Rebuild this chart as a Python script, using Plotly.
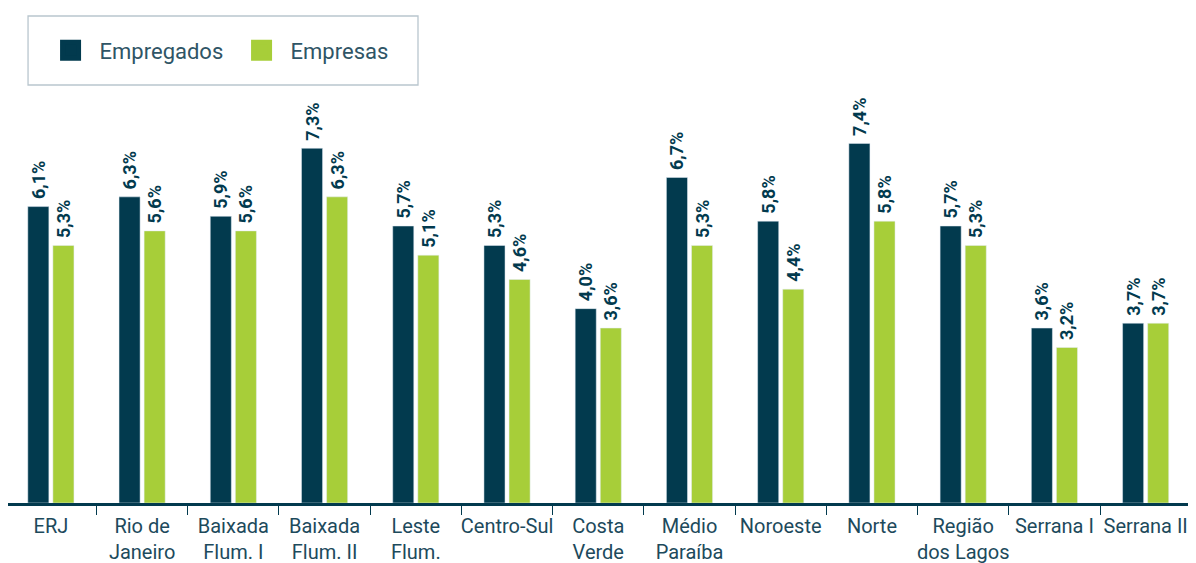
import plotly.graph_objects as go

categories = ["ERJ", "Rio de<br>Janeiro", "Baixada<br>Flum. I", "Baixada<br>Flum. II", "Leste<br>Flum.",
              "Centro-Sul", "Costa<br>Verde", "Médio<br>Paraíba", "Noroeste", "Norte",
              "Região<br>dos Lagos", "Serrana I", "Serrana II"]
empregados = [6.1, 6.3, 5.9, 7.3, 5.7, 5.3, 4.0, 6.7, 5.8, 7.4, 5.7, 3.6, 3.7]
empresas = [5.3, 5.6, 5.6, 6.3, 5.1, 4.6, 3.6, 5.3, 4.4, 5.8, 5.3, 3.2, 3.7]

DARK = "#023a4e"
GREEN = "#a7ce39"
TEXT = "#1d4a5c"
FONT = "Roboto, DejaVu Sans, sans-serif"

fig = go.Figure()
for name, vals, col in [("Empregados", empregados, DARK), ("Empresas", empresas, GREEN)]:
    fig.add_trace(go.Bar(
        x=categories, y=vals, name=name, marker_color=col, showlegend=False,
        texttemplate="\u00a0%{y:.1f}%", textposition="outside", textangle=-90,
        constraintext="none",
        textfont=dict(family=FONT, size=18, color=DARK, weight="bold"),
        cliponaxis=False,
    ))
    fig.add_trace(go.Scatter(
        x=[None], y=[None], mode="markers", name=name,
        marker=dict(symbol="square", size=16, color=col, line=dict(color=col, width=5)),
    ))

fig.update_layout(
    width=1196, height=563,
    margin=dict(l=0, r=10, t=12, b=68, autoexpand=False),
    paper_bgcolor="white", plot_bgcolor="white",
    separators=",.",
    barmode="group", bargap=0.45, bargroupgap=0.16,
    font=dict(family=FONT, color=TEXT),
    legend=dict(
        orientation="h", x=0.0283, y=0.937, xanchor="left", yanchor="middle",
        font=dict(family=FONT, size=22, color="#2f5566"),
        bgcolor="rgba(0,0,0,0)", itemwidth=48, entrywidth=128,
    ),
    xaxis=dict(
        range=[-0.47, 12.53],
        showline=True, linecolor=DARK, linewidth=2.5,
        ticks="outside", tickson="boundaries", ticklen=9, tickcolor=DARK, tickwidth=1.2,
        tickangle=0, automargin=False, ticklabelstandoff=3,
        tickfont=dict(family=FONT, size=20, color=TEXT),
        showgrid=False,
    ),
    yaxis=dict(range=[0, 9.94], visible=False, showgrid=False, zeroline=False, automargin=False),
    shapes=[dict(type="rect", xref="paper", yref="paper",
                 x0=0.0169, x1=0.3457, y0=1.0083, y1=0.8654,
                 line=dict(color="#b9c6ce", width=1.3), fillcolor="rgba(0,0,0,0)")],
)

fig.write_html("out.html")
